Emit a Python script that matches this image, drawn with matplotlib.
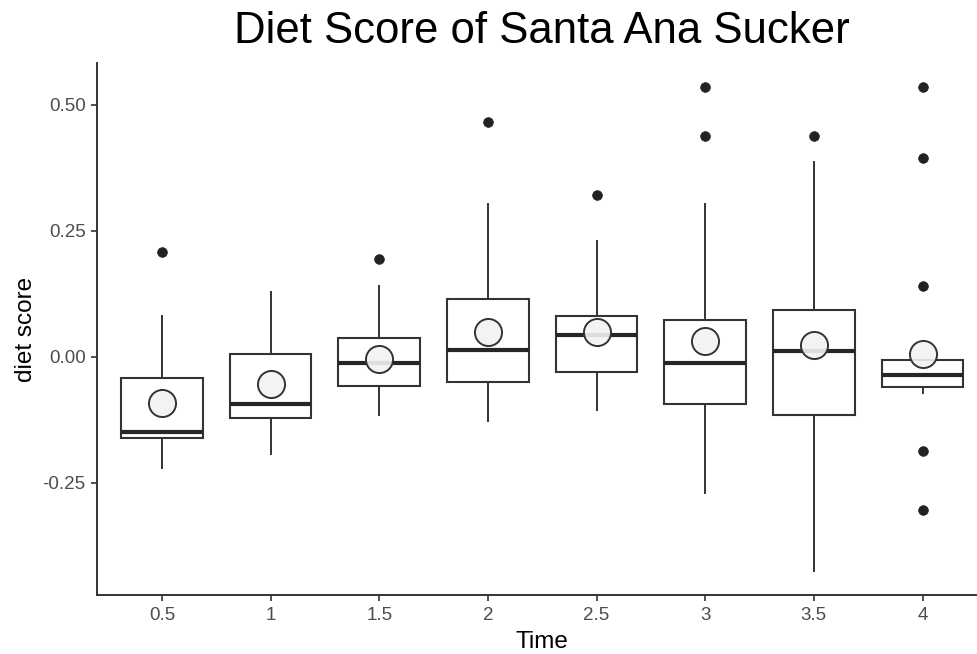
import matplotlib
matplotlib.use("Agg")
import matplotlib.pyplot as plt

plt.rcParams['font.family'] = ['Liberation Sans', 'DejaVu Sans']

# Diet score summaries per sampling time
times = ["0.5", "1", "1.5", "2", "2.5", "3", "3.5", "4"]
q1 = [-0.161, -0.122, -0.059, -0.051, -0.030, -0.094, -0.117, -0.060]
medians = [-0.149, -0.094, -0.013, 0.012, 0.043, -0.012, 0.011, -0.036]
q3 = [-0.042, 0.004, 0.037, 0.115, 0.081, 0.072, 0.092, -0.006]
whisker_low = [-0.222, -0.193, -0.117, -0.128, -0.107, -0.270, -0.426, -0.072]
whisker_high = [0.080, 0.127, 0.139, 0.302, 0.229, 0.302, 0.385, -0.006]
means = [-0.093, -0.055, -0.004, 0.048, 0.048, 0.031, 0.023, 0.004]
outliers = [
    [0.207],
    [],
    [0.194],
    [0.465],
    [0.321],
    [0.534, 0.438],
    [0.437],
    [0.534, 0.394, 0.139, -0.188, -0.305],
]
y_ticks = [-0.25, 0.00, 0.25, 0.50]
y_tick_labels = ["-0.25", "0.00", "0.25", "0.50"]

EDGE = "#333333"

fig = plt.figure(figsize=(9.77, 6.54), dpi=100)
ax = fig.add_axes([0.099, 0.0896, 0.912, 0.8138])

stats = []
for i, t in enumerate(times):
    stats.append(dict(label=t, q1=q1[i], med=medians[i], q3=q3[i],
                      whislo=whisker_low[i], whishi=whisker_high[i],
                      fliers=outliers[i]))

positions = list(range(len(times)))
ax.bxp(stats, positions=positions, widths=0.75, showcaps=False,
       patch_artist=True,
       boxprops=dict(facecolor="white", edgecolor=EDGE, linewidth=1.5),
       medianprops=dict(color="#262626", linewidth=3.0, solid_capstyle="butt"),
       whiskerprops=dict(color=EDGE, linewidth=1.4),
       flierprops=dict(marker="o", markersize=7, markerfacecolor="#222222",
                       markeredgecolor="#222222", markeredgewidth=0.5,
                       linestyle="none"))

# mean markers
ax.plot(positions, means, linestyle="none", marker="o", markersize=19.5,
        markerfacecolor=(0.95, 0.95, 0.95, 0.9), markeredgecolor=EDGE,
        markeredgewidth=1.4, zorder=5)

# axis ranges with 5% padding around all plotted values
all_vals = whisker_low + whisker_high + [v for o in outliers for v in o]
lo, hi = min(all_vals), max(all_vals)
pad = 0.05 * (hi - lo)
ax.set_ylim(lo - pad, hi + pad)
ax.set_xlim(-0.6, len(times) - 1 + 0.6)

ax.set_xticks(positions)
ax.set_xticklabels(times)
ax.set_yticks(y_ticks)
ax.set_yticklabels(y_tick_labels)

for s in ["top", "right"]:
    ax.spines[s].set_visible(False)
for s in ["left", "bottom"]:
    ax.spines[s].set_color(EDGE)
    ax.spines[s].set_linewidth(1.4)

ax.tick_params(axis="both", length=4.5, width=1.2, color=EDGE,
               labelsize=13.5, labelcolor="#4D4D4D", pad=3.5)

ax.set_xlabel("Time", fontsize=17.5, color="black")
ax.xaxis.label.set_va("baseline")
ax.xaxis.set_label_coords(0.5, -0.0994)
ax.set_ylabel("diet score", fontsize=17.5, color="black")
ax.yaxis.label.set_va("baseline")
ax.yaxis.set_label_coords(-0.0729, 0.5)

ax.set_title("Diet Score of Santa Ana Sucker", fontsize=31.5, color="black",
             va="baseline", y=1.0374, pad=0)

fig.savefig("out.png", dpi=100)
